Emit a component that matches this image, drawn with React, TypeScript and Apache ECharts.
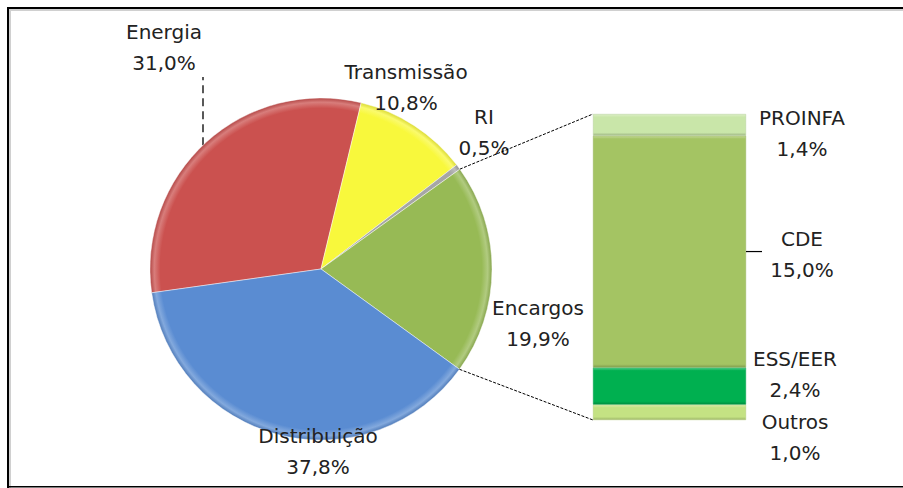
import React, { useEffect, useRef } from 'react';
import * as echarts from 'echarts';

const mainCategories = ['Energia', 'Transmissão', 'RI', 'Encargos', 'Distribuição'];
const mainValues = [31.0, 10.8, 0.5, 19.9, 37.8];
const subCategories = ['PROINFA', 'CDE', 'ESS/EER', 'Outros'];
const subValues = [1.4, 15.0, 2.4, 1.0];

const mainColors = ['#CB514F', '#F8F83C', '#A6A6A6', '#97BA55', '#5A8CD2'];
const subColors = ['#C9E6A9', '#A4C463', '#00B050', '#C4E283'];

const FONT = "'DejaVu Sans', sans-serif";
const TEXT_COLOR = '#222';
const fmt = (v: number) => v.toFixed(1).replace('.', ',') + '%';

const PIE_CENTER: [number, number] = [321, 269];
const PIE_R = 171;
const START = 188;
const GRID = { left: 593, top: 114, width: 153, height: 306 };

const pieLabelPos: Record<string, [number, number]> = {
  Energia: [164, 47],
  Transmissão: [406, 87],
  RI: [484, 132],
  Encargos: [538, 323],
  Distribuição: [318, 451],
};
const subLabelOffset: Record<string, [number, number]> = {
  PROINFA: [0, 9],
  CDE: [0, 2.5],
  'ESS/EER': [-7, -12],
  Outros: [-7, 25],
};

function shade(hex: string, amt: number): string {
  const n = parseInt(hex.slice(1), 16);
  let r = (n >> 16) & 255, g = (n >> 8) & 255, b = n & 255;
  const f = (c: number) => Math.max(0, Math.min(255, Math.round(amt >= 0 ? c + (255 - c) * amt : c * (1 + amt))));
  r = f(r); g = f(g); b = f(b);
  return '#' + ((1 << 24) + (r << 16) + (g << 8) + b).toString(16).slice(1);
}

export default function App() {
  const ref = useRef<HTMLDivElement>(null);
  useEffect(() => {
    if (!ref.current) return;
    const chart = echarts.init(ref.current, undefined, { renderer: 'svg' });
    const total = subValues.reduce((a, b) => a + b, 0);

    const pieData = mainCategories.map((n, i) => ({
      name: n,
      value: mainValues[i],
      itemStyle: {
        color: new echarts.graphic.RadialGradient(PIE_CENTER[0], PIE_CENTER[1], PIE_R, [
          { offset: 0, color: mainColors[i] },
          { offset: 0.94, color: mainColors[i] },
          { offset: 0.975, color: shade(mainColors[i], 0.25) },
          { offset: 1, color: shade(mainColors[i], -0.12) },
        ], true),
      },
      labelLine: { show: n === 'Energia' },
    }));

    const barSeries = subCategories
      .map((n, i) => {
        const hPx = (subValues[i] / total) * GRID.height;
        const b = Math.min(0.3, 3 / hPx);
        return {
          name: n,
          type: 'bar',
          stack: 'sub',
          barWidth: '100%',
          silent: true,
          data: [subValues[i]],
          itemStyle: {
            color: new echarts.graphic.LinearGradient(0, 0, 0, 1, [
              { offset: 0, color: shade(subColors[i], 0.35) },
              { offset: b, color: subColors[i] },
              { offset: 1 - b, color: subColors[i] },
              { offset: 1, color: shade(subColors[i], -0.2) },
            ]),
            borderColor: shade(subColors[i], -0.1),
            borderWidth: 0.5,
          },
          label: {
            show: true,
            position: 'right',
            distance: 56,
            align: 'center',
            verticalAlign: 'middle',
            offset: subLabelOffset[n],
            formatter: (p: any) => p.seriesName + '\n' + fmt(p.value),
            color: TEXT_COLOR,
            fontSize: 20,
            lineHeight: 31,
            fontFamily: FONT,
          },
        };
      })
      .reverse();

    const option: any = {
      animation: false,
      backgroundColor: '#fff',
      grid: { ...GRID, containLabel: false },
      xAxis: { type: 'category', data: [''], show: false },
      yAxis: { type: 'value', min: 0, max: total, show: false },
      series: [
        {
          type: 'pie',
          center: PIE_CENTER,
          radius: PIE_R,
          startAngle: START,
          clockwise: true,
          avoidLabelOverlap: false,
          silent: true,
          data: pieData,
          itemStyle: { borderColor: 'rgba(255,255,255,0.45)', borderWidth: 1 },
          label: {
            show: true,
            position: 'outside',
            formatter: (p: any) => p.name + '\n' + fmt(p.value),
            color: TEXT_COLOR,
            fontSize: 20,
            lineHeight: 31,
            fontFamily: FONT,
            align: 'center',
          },
          labelLine: { show: false, lineStyle: { color: '#000', width: 1.3, type: [8, 5] } },
          labelLayout: (params: any) => {
            const name = mainCategories[params.dataIndex];
            const p = pieLabelPos[name];
            const out: any = { x: p[0], y: p[1], align: 'center', verticalAlign: 'middle' };
            if (name === 'Energia') {
              const lx = 203;
              const ey = PIE_CENTER[1] - Math.sqrt(PIE_R * PIE_R - (lx - PIE_CENTER[0]) ** 2);
              out.labelLinePoints = [[lx, ey], [lx, 110], [lx, 77]];
            }
            return out;
          },
        },
        ...barSeries,
      ],
    };
    chart.setOption(option);

    // connector lines from the "Encargos" slice edges to the bar
    const encIdx = mainCategories.indexOf('Encargos');
    const before = mainValues.slice(0, encIdx).reduce((a, b) => a + b, 0);
    const sumAll = mainValues.reduce((a, b) => a + b, 0);
    const pt = (frac: number) => {
      const th = ((START - frac * 360) * Math.PI) / 180;
      return [PIE_CENTER[0] + PIE_R * Math.cos(th), PIE_CENTER[1] - PIE_R * Math.sin(th)];
    };
    const p1 = pt(before / sumAll);
    const p2 = pt((before + mainValues[encIdx]) / sumAll);
    const yTop = chart.convertToPixel({ yAxisIndex: 0 }, total) as number;
    const yBot = chart.convertToPixel({ yAxisIndex: 0 }, 0) as number;
    const cdeIdx = subCategories.indexOf('CDE');
    const belowCde = subValues.slice(cdeIdx + 1).reduce((a, b) => a + b, 0);
    const yCde = chart.convertToPixel({ yAxisIndex: 0 }, belowCde + subValues[cdeIdx] / 2) as number;
    const xR = GRID.left + GRID.width;

    chart.setOption({
      graphic: [
        { type: 'line', z: 100, shape: { x1: p1[0], y1: p1[1], x2: GRID.left, y2: yTop }, style: { stroke: '#000', lineWidth: 1, lineDash: [3, 1.5] } },
        { type: 'line', z: 100, shape: { x1: p2[0], y1: p2[1], x2: GRID.left, y2: yBot }, style: { stroke: '#000', lineWidth: 1, lineDash: [3, 1.5] } },
        { type: 'line', z: 100, shape: { x1: xR, y1: yCde, x2: xR + 16, y2: yCde }, style: { stroke: '#000', lineWidth: 1.2 } },
        { type: 'rect', z: 50, shape: { x: 9, y: 9, width: 2, height: 479 }, style: { fill: '#d0d0d0' } },
        { type: 'rect', z: 50, shape: { x: 9, y: 9, width: 894, height: 2 }, style: { fill: '#d0d0d0' } },
        { type: 'rect', z: 51, shape: { x: 7, y: 7, width: 2, height: 481 }, style: { fill: '#000' } },
        { type: 'rect', z: 51, shape: { x: 7, y: 7, width: 896, height: 2 }, style: { fill: '#000' } },
        { type: 'rect', z: 51, shape: { x: 7, y: 486, width: 896, height: 1.5 }, style: { fill: '#000' } },
      ],
    });

    return () => chart.dispose();
  }, []);
  return (
    <div
      ref={ref}
      style={{ position: 'fixed', left: 0, top: 0, width: 903, height: 488, background: '#fff' }}
    />
  );
}
